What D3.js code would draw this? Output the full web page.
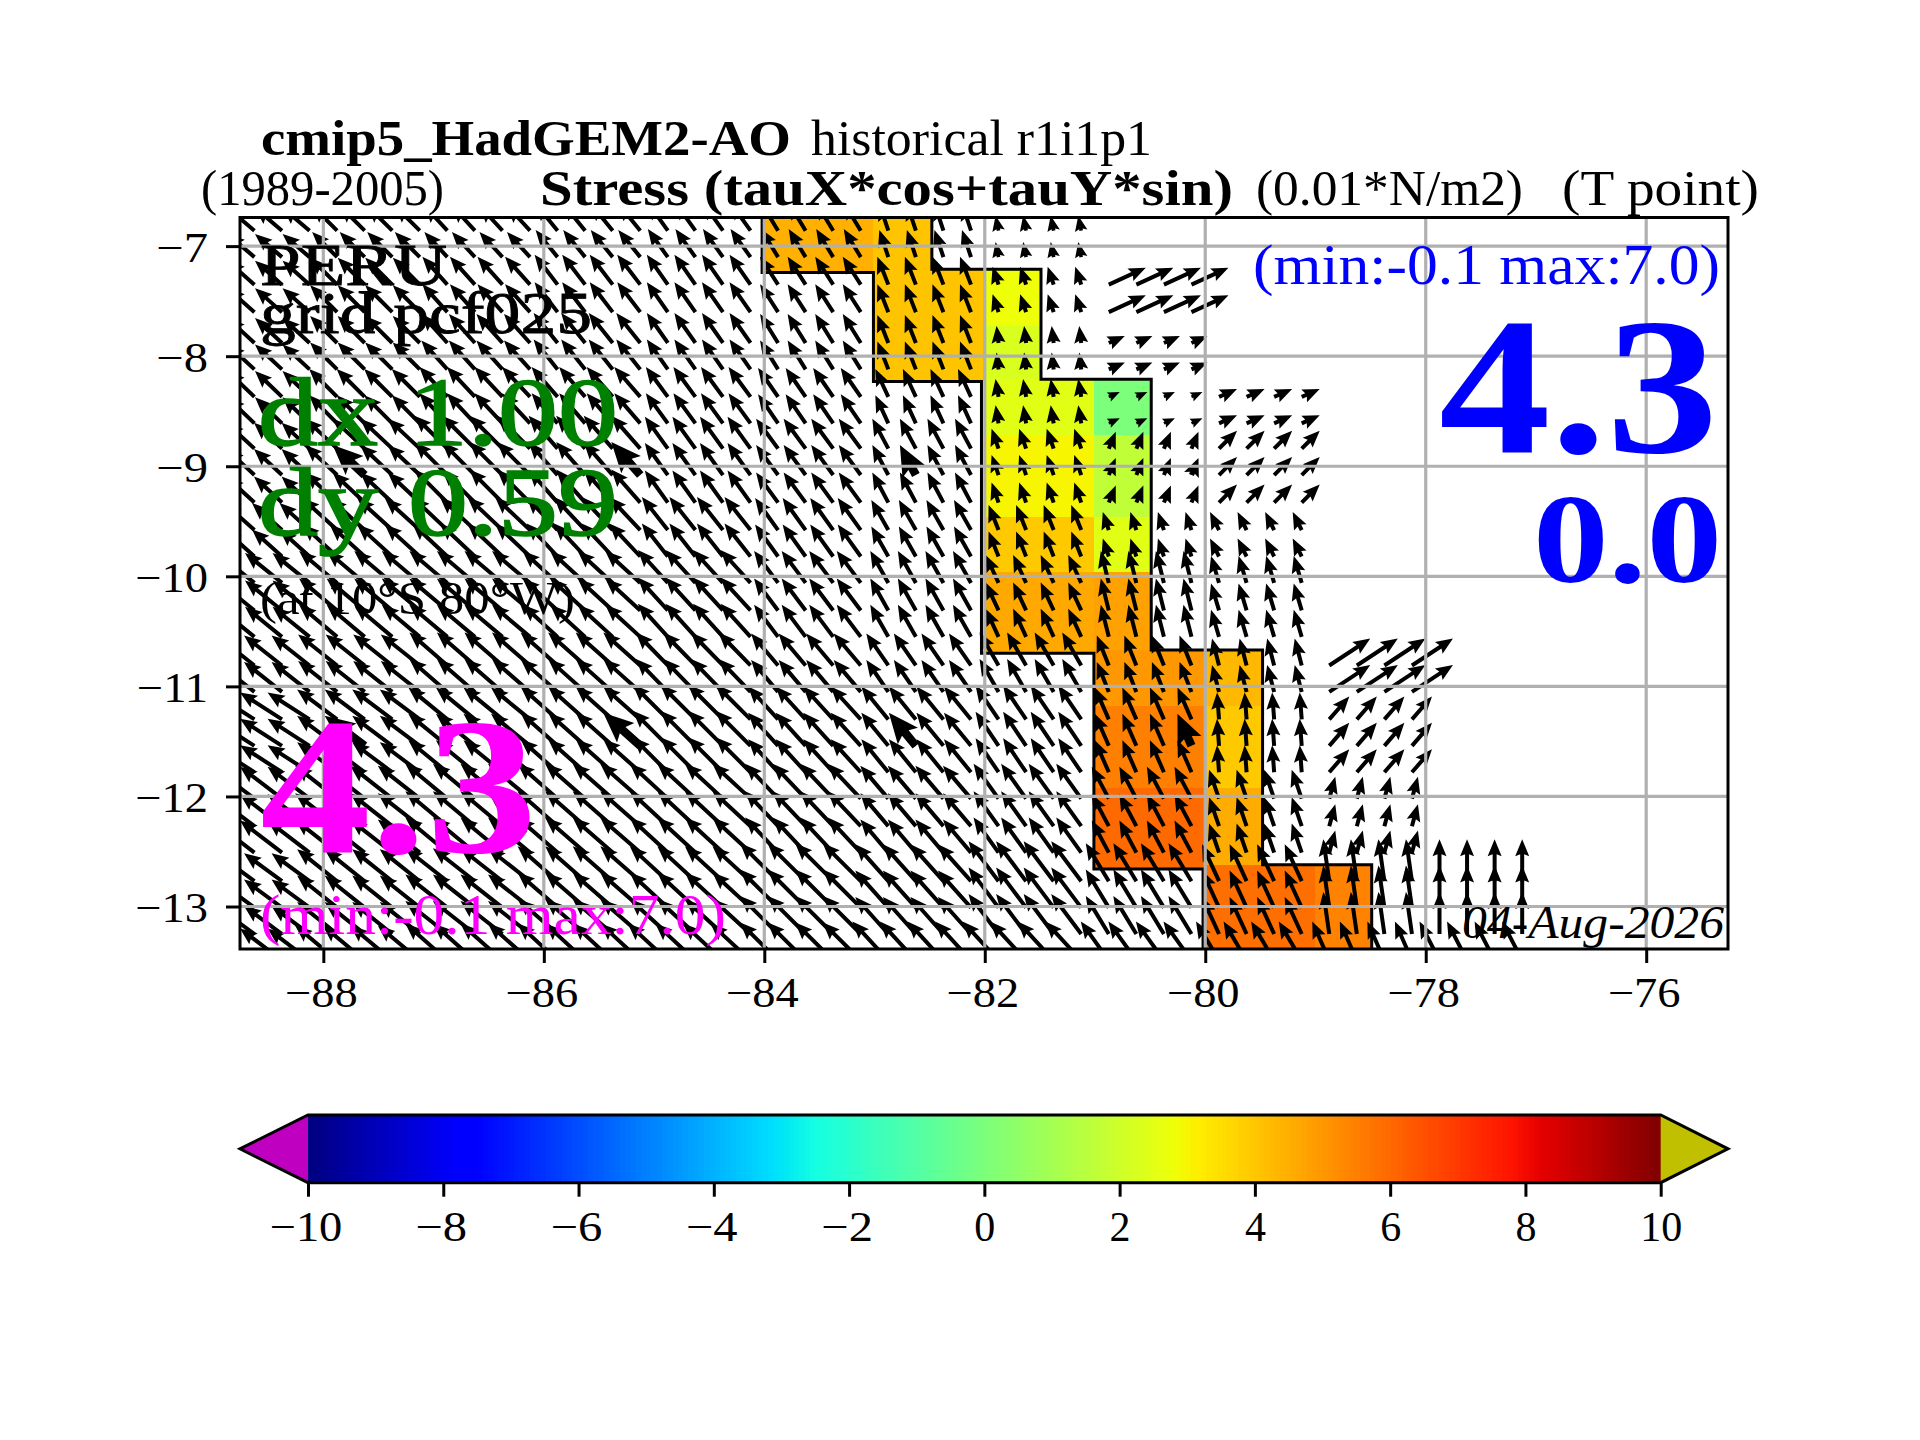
<!DOCTYPE html>
<html><head><meta charset="utf-8">
<script src="https://cdn.jsdelivr.net/npm/d3@7"></script>
<style>html,body{margin:0;padding:0;background:#fff}svg{display:block}
text{font-family:"Liberation Serif",serif}</style></head><body>
<svg id="c" width="1920" height="1440" xmlns="http://www.w3.org/2000/svg"></svg>
<script>
// ---------- data ----------
const lonTicks=[-88,-86,-84,-82,-80,-78,-76];
const latTicks=[-7,-8,-9,-10,-11,-12,-13];
const barTicks=[-10,-8,-6,-4,-2,0,2,4,6,8,10];

// shaded cells: edges in degrees and value
const cellWest =[-84,-83.01,-83.01,-82,-82,-82,-81.01,-82,-81.01,-82,-81.01,-82,-81.01,-81.01,-81.01,-81.01,-80,-80,-80,-80,-79];
const cellEast =[-83.01,-82.48,-82,-81.49,-81.49,-81.01,-80.49,-81.01,-80.49,-81.01,-80.49,-81.01,-80.49,-80,-80,-80,-79.48,-79.48,-79.48,-79,-78.49];
const cellNorth=[-6.74,-6.74,-7.21,-7.21,-7.73,-8.21,-8.21,-8.72,-8.72,-9.46,-9.46,-9.96,-9.96,-10.67,-11.18,-11.92,-10.67,-11.18,-11.92,-12.62,-12.62];
const cellSouth=[-7.24,-7.21,-8.23,-7.73,-8.22,-8.72,-8.72,-9.46,-9.46,-9.96,-9.96,-10.7,-10.67,-11.18,-11.92,-12.66,-11.18,-11.92,-12.62,-13.39,-13.39];
const cellValue=[4.47,4.04,4.04,2.8,2.26,2.48,0.02,3.0,1.66,3.95,2.48,4.64,4.8,4.98,5.5,5.96,4.3,3.95,4.55,5.85,5.45];

// mask outline
const outlineWestLon=[-84.02,-84.02,-83.01,-83.01,-82.03,-82.03,-81.01,-81.01,-80.02,-80.02];
const outlineWestLat=[-6.74,-7.24,-7.24,-8.23,-8.23,-10.7,-10.7,-12.66,-12.66,-13.39];
const outlineEastLon=[-82.48,-82.48,-81.49,-81.49,-80.49,-80.49,-79.48,-79.48,-78.49,-78.49];
const outlineEastLat=[-6.74,-7.21,-7.21,-8.21,-8.21,-10.67,-10.67,-12.62,-12.62,-13.39];

// quiver points
const arrowLons=[-88.625,-88.375,-88.125,-87.875,-87.625,-87.375,-87.125,-86.875,-86.625,-86.375,-86.125,-85.875,-85.625,-85.375,-85.125,-84.875,-84.625,-84.375,-84.125,-83.875,-83.625,-83.375,-83.125,-82.875,-82.625,-82.375,-82.125,-81.875,-81.625,-81.375,-81.125,-80.875,-80.625,-80.375,-80.125,-79.875,-79.625,-79.375,-79.125,-78.875,-78.625,-78.375,-78.125,-77.875,-77.625,-77.375,-77.125];
const arrowLats=[-6.86,-7.10,-7.35,-7.60,-7.88,-8.12,-8.37,-8.61,-8.84,-9.08,-9.33,-9.58,-9.82,-10.06,-10.31,-10.55,-10.81,-11.05,-11.30,-11.54,-11.78,-12.02,-12.27,-12.51,-12.77,-13.01,-13.25,-13.49];
const latBand=[0,0,1,1,2,2,3,3,4,4,4,5,5,6,6,6,7,7,8,8,8,9,9,9,10,10,10,11];
// stress components: one row per latitude band, one column per degree of longitude from -89
const tauX=[
[-2.7,-2.5,-2.3,-2.2,-2.0,-1.7,-0.9,-0.3,null,null,null,null],
[-2.7,-2.7,-2.5,-2.3,-2.1,-1.8,-1.1,-0.6,3.7,null,null,null],
[-2.7,-2.7,-2.6,-2.4,-2.1,-1.8,-1.1,-0.2,1.6,null,null,null],
[-2.7,-2.8,-2.8,-2.6,-2.2,-2.0,-1.3,-0.3,1.1,1.8,null,null],
[-2.8,-3.2,-3.3,-2.9,-2.3,-2.2,-1.6,-0.7,0.7,1.8,null,null],
[-3.0,-3.5,-3.5,-3.1,-2.6,-2.3,-1.7,-1.0,-0.6,-0.9,null,null],
[-3.7,-3.8,-3.8,-3.5,-3.0,-2.4,-1.8,-1.3,-0.8,-0.8,null,null],
[-3.8,-3.9,-3.8,-3.7,-3.2,-2.7,-2.2,-1.9,-1.2,-0.7,4.1,null],
[-4.2,-4.0,-3.9,-3.7,-3.5,-3.0,-2.7,-2.3,-1.4,-0.2,2.0,null],
[-4.2,-4.2,-4.2,-4.0,-3.8,-3.3,-2.8,-2.5,-1.7,-1.0,0.6,null],
[-3.8,-4.0,-4.2,-4.0,-3.8,-3.8,-3.3,-3.0,-2.3,-1.7,-0.6,0],
[-4.2,-4.2,-4.2,-4.0,-4.0,-3.8,-3.6,-3.6,-2.8,-2.3,-1.7,-2.0]];
const tauY=[
[2.3,2.5,2.5,2.7,2.8,2.8,2.7,1.5,null,null,null,null],
[2.4,2.7,2.8,3.0,3.0,2.8,2.8,1.8,1.7,null,null,null],
[2.5,2.7,2.9,3.0,3.0,2.9,2.8,1.7,0.7,null,null,null],
[2.6,2.8,3.0,3.0,3.0,2.9,2.8,1.8,0.5,0.8,null,null],
[2.6,3.0,3.3,3.3,3.2,3.0,3.0,2.0,1.7,1.8,null,null],
[2.7,3.2,3.3,3.3,3.3,3.2,3.0,2.5,1.8,1.8,null,null],
[3.0,3.2,3.2,3.2,3.3,3.2,3.2,2.8,3.2,2.7,null,null],
[3.0,3.1,3.3,3.3,3.3,3.2,3.2,3.3,3.0,2.7,2.7,null],
[2.7,3.0,3.2,3.3,3.5,3.3,3.3,3.4,3.2,2.7,2.3,null],
[3.2,3.3,3.5,3.5,3.5,3.5,3.3,3.5,3.2,2.9,2.2,null],
[2.8,3.2,3.3,3.5,3.5,3.8,3.7,4.0,3.8,3.7,4.2,4.2],
[3.2,3.5,3.7,3.7,3.7,3.8,3.9,3.9,3.9,3.9,3.9,3.9]];
// emphasised arrows
const boldLons=[-87.625,-85.125,-82.625,-80.125];
const boldLats=[-9.08,-11.54];

// ---------- layout ----------
const L=240,R=1728,T=217.5,B=949;
const x=d3.scaleLinear().domain([-88.756,-75.258]).range([L,R]);
const y=d3.scaleLinear().domain([-6.74,-13.386]).range([T,B]);
const svg=d3.select("#c");
const fmt=d=>String(d).replace("-","\u2212");

svg.append("defs").append("clipPath").attr("id","ax").append("rect")
  .attr("x",L).attr("y",T).attr("width",R-L).attr("height",B-T);

// jet colormap
const jr=d3.scaleLinear().domain([0,.35,.66,.89,1]).range([0,0,1,1,.5]).clamp(true);
const jg=d3.scaleLinear().domain([0,.125,.375,.64,.91,1]).range([0,0,1,1,0,0]).clamp(true);
const jb=d3.scaleLinear().domain([0,.11,.34,.65,1]).range([.5,1,1,0,0]).clamp(true);
const tv=d3.scaleLinear().domain([-10,10]).range([0,1]);
const jet=v=>{const t=tv(v);return d3.rgb(jr(t)*255,jg(t)*255,jb(t)*255).formatHex();};

const plot=svg.append("g").attr("clip-path","url(#ax)");

// cells
plot.append("g").selectAll("rect").data(cellValue).join("rect")
  .attr("x",(d,i)=>x(cellWest[i])).attr("width",(d,i)=>x(cellEast[i])-x(cellWest[i]))
  .attr("y",(d,i)=>y(cellNorth[i])).attr("height",(d,i)=>y(cellSouth[i])-y(cellNorth[i]))
  .attr("fill",d=>jet(d)).attr("shape-rendering","crispEdges");

// arrows
const PX=10;
function arrowPath(x0,y0,u,v,w,hw,hl,ha){
  const dx=u*PX,dy=-v*PX,len=Math.hypot(dx,dy);
  const s=Math.min(1,len/hl);
  const W=w*s/2,HW=hw*s/2,HL=hl*s,HA=ha*s;
  const c=dx/len,n=dy/len;
  const pt=(a,b)=>[x0+a*c-b*n,y0+a*n+b*c];
  return d3.line()([pt(0,-W),pt(len-HA,-W),pt(len-HL,-HW),pt(len,0),pt(len-HL,HW),pt(len-HA,W),pt(0,W)])+"Z";
}
const arrows=[];
arrowLats.forEach((la,r)=>arrowLons.forEach(lo=>{
  const c=Math.floor(lo+89),b=latBand[r],u=tauX[b][c],v=tauY[b][c];
  if(u===null||v===null)return;
  const big=boldLats.includes(la)&&boldLons.includes(lo);
  arrows.push({lo,la,u,v,big});
}));
plot.append("g").selectAll("path").data(arrows).join("path")
  .attr("d",d=>d.big?arrowPath(x(d.lo),y(d.la),d.u,d.v,8.5,26,30,26):arrowPath(x(d.lo),y(d.la),d.u,d.v,4,14,17,15))
  .attr("fill","#000");

// mask outline
const ol=d3.line();
plot.append("path").attr("d",ol(outlineWestLon.map((d,i)=>[x(d),y(outlineWestLat[i])]))).attr("fill","none").attr("stroke","#000").attr("stroke-width",3);
plot.append("path").attr("d",ol(outlineEastLon.map((d,i)=>[x(d),y(outlineEastLat[i])]))).attr("fill","none").attr("stroke","#000").attr("stroke-width",3);

// grid
const grid=svg.append("g").attr("stroke","#b0b0b0").attr("stroke-width",3.2);
grid.selectAll(".v").data(lonTicks).join("line").attr("class","v").attr("x1",x).attr("x2",x).attr("y1",T).attr("y2",B);
grid.selectAll(".h").data(latTicks).join("line").attr("class","h").attr("y1",y).attr("y2",y).attr("x1",L).attr("x2",R);

// axes
function styleAxis(g,size,shift){
  g.selectAll(".domain").remove();
  g.selectAll(".tick line").attr("stroke","#000").attr("stroke-width",3);
  g.selectAll(".tick text").attr("font-family","Liberation Serif").attr("font-size",size).attr("fill","#000")
    .each(function(){
      const t=d3.select(this),s=t.text();
      if(s.startsWith("\u2212")) t.attr("textLength",this.getComputedTextLength()+7).attr("lengthAdjust","spacingAndGlyphs").attr("dx",shift);
    });
}
svg.append("g").attr("transform",`translate(0,${B})`)
  .call(d3.axisBottom(x).tickValues(lonTicks).tickSize(14).tickPadding(14.5).tickFormat(fmt)).call(styleAxis,42,-2.5);
svg.append("g").attr("class","yax").attr("transform",`translate(${L},0)`)
  .call(d3.axisLeft(y).tickValues(latTicks).tickSize(14).tickPadding(18).tickFormat(fmt)).call(styleAxis,42,0);
svg.select(".yax").selectAll(".tick text").attr("dy","0.36em");
svg.append("rect").attr("x",L).attr("y",T).attr("width",R-L).attr("height",B-T)
  .attr("fill","none").attr("stroke","#000").attr("stroke-width",3);

// text
function label(str,x0,x1,base,size,opt={}){
  svg.append("text").text(str).attr("x",x0).attr("y",base).attr("font-size",size)
    .attr("textLength",x1-x0).attr("lengthAdjust","spacingAndGlyphs")
    .attr("font-weight",opt.bold?"bold":"normal").attr("font-style",opt.italic?"italic":"normal")
    .attr("fill",opt.fill||"#000").style("white-space","pre")
    .attr("stroke",opt.heavy?(opt.fill||"#000"):"none").attr("stroke-width",opt.heavy||0);
}
label("cmip5_HadGEM2-AO",261,791,154.5,50,{bold:true});
label("historical r1i1p1",811,1152,154.5,50);
label("(1989-2005)",201,444,205,50);
label("Stress (tauX*cos+tauY*sin)",540,1233,205,50,{bold:true});
label("(0.01*N/m2)",1256,1523,205,50);
label("(T point)",1562,1759,205,50);
label("PERU",260,447,285,60,{heavy:0.8});
label("grid pcf025",260,592,333,60,{heavy:0.8});
label("dx 1.00",258,618,445,97,{fill:"#008000",heavy:1.6});
label("dy 0.59",258,618,535,97,{fill:"#008000",heavy:1.6});
label("(at 10\u00b0S 80\u00b0W)",260,575,614,46);
label("4.3",260,537,852,195,{bold:true,fill:"#ff00ff"});
label("(min:-0.1 max:7.0)",260,726,934,57,{fill:"#ff00ff"});
label("(min:-0.1 max:7.0)",1253,1720,284,57,{fill:"#0000ff"});
label("4.3",1439,1718,452,195,{bold:true,fill:"#0000ff"});
label("0.0",1533,1722,582,128,{bold:true,fill:"#0000ff"});
label("04-Aug-2026",1462,1724,938,46,{italic:true});

// colorbar
const BL=308,BR=1660.7,BT=1115,BB=1182.7,TL=240,TR=1728;
const bx=d3.scaleLinear().domain([-10,10]).range([BL,BR]);
const steps=d3.range(256).map(i=>-10+20*i/256);
svg.append("g").selectAll("rect").data(steps).join("rect")
  .attr("x",d=>bx(d)).attr("width",(BR-BL)/256+.6).attr("y",BT).attr("height",BB-BT)
  .attr("fill",d=>jet(d+10/256)).attr("shape-rendering","crispEdges");
const my=(BT+BB)/2;
svg.append("path").attr("d",d3.line()([[BL,BT],[TL,my],[BL,BB]])+"Z").attr("fill","#c000c0");
svg.append("path").attr("d",d3.line()([[BR,BT],[TR,my],[BR,BB]])+"Z").attr("fill","#c0c000");
svg.append("path").attr("d",d3.line()([[BL,BT],[BR,BT],[TR,my],[BR,BB],[BL,BB],[TL,my]])+"Z")
  .attr("fill","none").attr("stroke","#000").attr("stroke-width",3);
svg.append("g").attr("transform",`translate(0,${BB})`)
  .call(d3.axisBottom(bx).tickValues(barTicks).tickSize(14).tickPadding(14).tickFormat(fmt)).call(styleAxis,42,-2.5);
</script></body></html>
